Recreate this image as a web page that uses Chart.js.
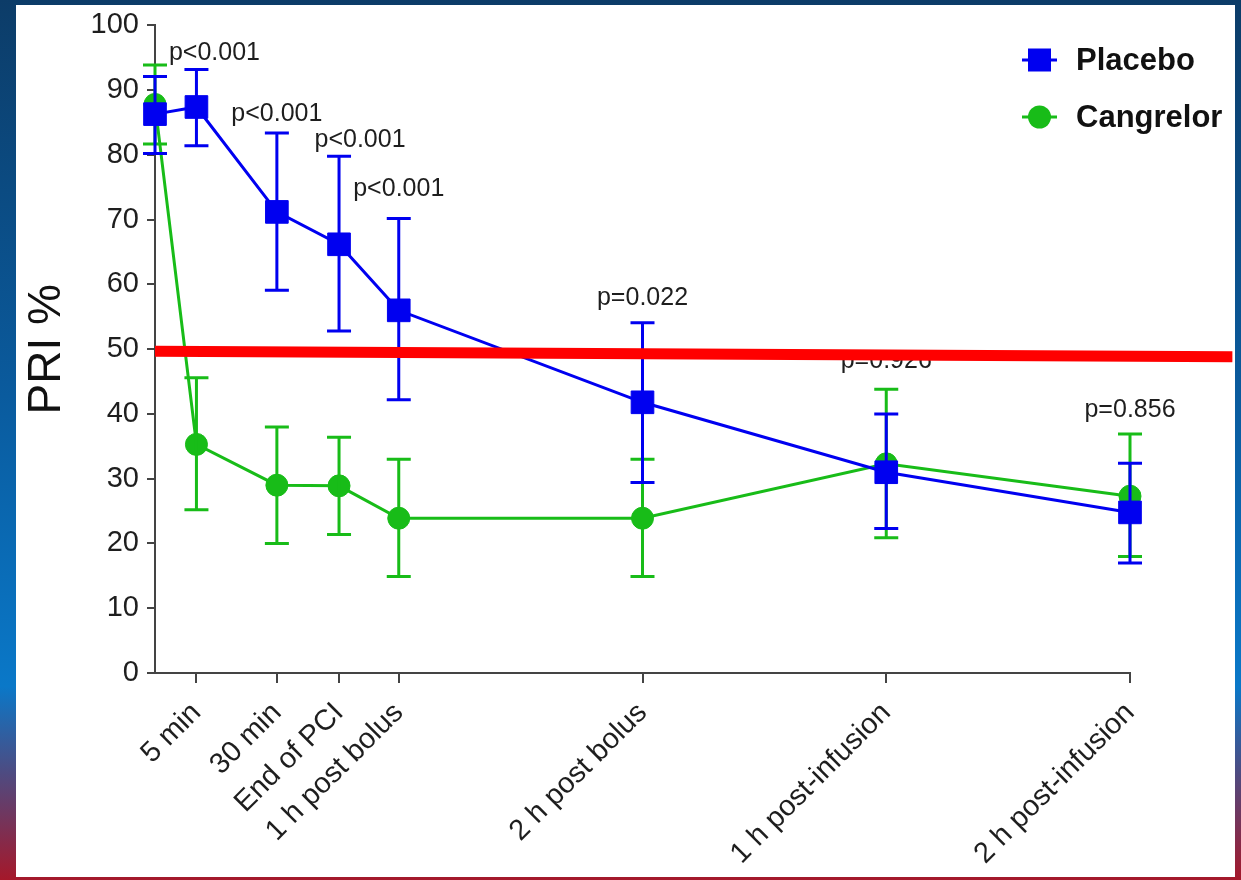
<!DOCTYPE html>
<html>
<head>
<meta charset="utf-8">
<script src="https://cdn.jsdelivr.net/npm/chart.js@4/dist/chart.umd.min.js"></script>
<style>
  html, body { margin: 0; padding: 0; }
  body {
    width: 1241px; height: 880px; overflow: hidden; position: relative;
    background: linear-gradient(to bottom, #0c3c68 0%, #0a5b9e 45%, #0a78c8 78%, #4f4a80 88%, #a5182a 100%);
  }
  #panel { position: absolute; left: 16px; top: 5px; width: 1219px; height: 872px; background: #fff; }
  #wrap { position: absolute; left: 0; top: 0; width: 1241px; height: 880px; }
</style>
</head>
<body>
<div id="panel"></div>
<div id="wrap"><canvas id="chart" width="1241" height="880"></canvas></div>
<script>
// x positions of the time points (baseline, 5 min ... 2 h post-infusion)
const timePos = [0, 0.17, 0.5, 0.755, 1, 2, 3, 4]
const tickLabels = ['5 min', '30 min', 'End of PCI', '1 h post bolus', '2 h post bolus', '1 h post-infusion', '2 h post-infusion']

const placebo = [86.3, 87.4, 71.2, 66.2, 56.0, 41.8, 31.0, 24.8]
const placeboLow = [80.2, 81.4, 59.1, 52.8, 42.2, 29.4, 22.3, 17.0]
const placeboHigh = [92.1, 93.2, 83.4, 79.8, 70.2, 54.1, 40.0, 32.4]

const cangrelor = [87.8, 35.3, 29.0, 28.9, 23.9, 23.9, 32.3, 27.3]
const cangrelorLow = [81.7, 25.2, 20.0, 21.4, 14.9, 14.9, 20.9, 18.0]
const cangrelorHigh = [93.9, 45.6, 38.0, 36.4, 33.0, 33.0, 43.8, 36.9]

const pValues = ['p<0.001', 'p<0.001', 'p<0.001', 'p<0.001', 'p=0.022', 'p=0.926', 'p=0.856']

// red 50% threshold line
const redX = [0, 4.42]
const redY = [49.7, 48.85]

const FONT = "'Liberation Sans', Arial, sans-serif"
const BLUE = '#0000f0'
const GREEN = '#18bc18'

function toPoints(xs, ys) {
  return xs.map((x, i) => ({ x: x, y: ys[i] }))
}

// error bars drawn right after each dataset
const errorBars = {
  id: 'errorBars',
  afterDatasetDraw(chart, args) {
    const ds = chart.data.datasets[args.index]
    if (!ds.errLow) return
    const { ctx, scales: { x, y } } = chart
    ctx.save()
    ctx.strokeStyle = ds.borderColor
    ctx.lineWidth = 3
    ds.data.forEach((p, i) => {
      const px = x.getPixelForValue(p.x)
      const lo = y.getPixelForValue(ds.errLow[i])
      const hi = y.getPixelForValue(ds.errHigh[i])
      ctx.beginPath()
      ctx.moveTo(px, lo); ctx.lineTo(px, hi)
      ctx.moveTo(px - 12, lo); ctx.lineTo(px + 12, lo)
      ctx.moveTo(px - 12, hi); ctx.lineTo(px + 12, hi)
      ctx.stroke()
    })
    ctx.restore()
  }
}

// p-value labels above each time point (under the red line)
const pLabels = {
  id: 'pLabels',
  beforeDatasetsDraw(chart) {
    const { ctx, scales: { x, y } } = chart
    const dx = [18, 0, 21, 0, 0, 0, 0]
    const dy = [9, 12, 9, 22, 18, 21, 17]
    ctx.save()
    ctx.font = '25px ' + FONT
    ctx.fillStyle = '#1e1e1e'
    ctx.textAlign = 'center'
    ctx.textBaseline = 'alphabetic'
    pValues.forEach((txt, i) => {
      const top = Math.max(placeboHigh[i + 1], cangrelorHigh[i + 1])
      ctx.fillText(txt, x.getPixelForValue(timePos[i + 1]) + dx[i], y.getPixelForValue(top) - dy[i])
    })
    ctx.restore()
  }
}

// legend with line-through markers
const customLegend = {
  id: 'customLegend',
  afterDraw(chart) {
    const ctx = chart.ctx
    const items = [
      { label: 'Placebo', color: BLUE, shape: 'rect', y: 60 },
      { label: 'Cangrelor', color: GREEN, shape: 'circle', y: 117 }
    ]
    ctx.save()
    items.forEach(it => {
      ctx.strokeStyle = it.color
      ctx.fillStyle = it.color
      ctx.lineWidth = 3
      ctx.beginPath()
      ctx.moveTo(1022, it.y); ctx.lineTo(1057, it.y)
      ctx.stroke()
      if (it.shape === 'rect') {
        ctx.fillRect(1028, it.y - 11.5, 23, 23)
      } else {
        ctx.beginPath()
        ctx.arc(1039.5, it.y, 11.5, 0, Math.PI * 2)
        ctx.fill()
      }
      ctx.fillStyle = '#111'
      ctx.font = 'bold 31px ' + FONT
      ctx.textAlign = 'left'
      ctx.textBaseline = 'middle'
      ctx.fillText(it.label, 1076, it.y + 1)
    })
    ctx.restore()
  }
}

const chart = new Chart(document.getElementById('chart'), {
  type: 'line',
  data: {
    datasets: [
      {
        label: 'Threshold',
        data: toPoints(redX, redY),
        borderColor: '#ff0000',
        borderWidth: 11,
        pointRadius: 0,
        clip: false,
        order: -1
      },
      {
        label: 'Placebo',
        data: toPoints(timePos, placebo),
        errLow: placeboLow,
        errHigh: placeboHigh,
        borderColor: BLUE,
        backgroundColor: BLUE,
        borderWidth: 3,
        pointStyle: 'rect',
        pointRadius: 16,
        pointBorderWidth: 1,
        clip: false,
        order: 0
      },
      {
        label: 'Cangrelor',
        data: toPoints(timePos, cangrelor),
        errLow: cangrelorLow,
        errHigh: cangrelorHigh,
        borderColor: GREEN,
        backgroundColor: GREEN,
        borderWidth: 3,
        pointStyle: 'circle',
        pointRadius: 11,
        pointBorderWidth: 1,
        clip: false,
        order: 1
      }
    ]
  },
  options: {
    responsive: false,
    animation: false,
    layout: { padding: { left: 0, right: 111, top: 20, bottom: 0 } },
    plugins: { legend: { display: false }, tooltip: { enabled: false } },
    scales: {
      x: {
        type: 'linear',
        min: 0,
        max: 4,
        afterBuildTicks: s => { s.ticks = tickLabels.map((t, i) => ({ value: timePos[i + 1] })) },
        afterFit: s => { s.height = 207 },
        ticks: {
          autoSkip: false,
          minRotation: 45,
          maxRotation: 45,
          padding: 13,
          color: '#1e1e1e',
          font: { family: FONT, size: 29 },
          callback: v => tickLabels[timePos.indexOf(v) - 1]
        },
        grid: { drawOnChartArea: false, tickLength: 10, color: '#444', lineWidth: 2 },
        border: { color: '#444', width: 2 }
      },
      y: {
        min: 0,
        max: 100,
        afterFit: s => { s.width = 155 },
        ticks: { stepSize: 10, padding: 8, color: '#1e1e1e', font: { family: FONT, size: 29 } },
        grid: { drawOnChartArea: false, tickLength: 8, color: '#444', lineWidth: 2 },
        border: { color: '#444', width: 2 },
        title: {
          display: true,
          text: 'PRI %',
          color: '#111',
          font: { family: FONT, size: 46 },
          padding: { top: 20, bottom: 0 }
        }
      }
    }
  },
  plugins: [errorBars, pLabels, customLegend]
})
</script>
</body>
</html>
